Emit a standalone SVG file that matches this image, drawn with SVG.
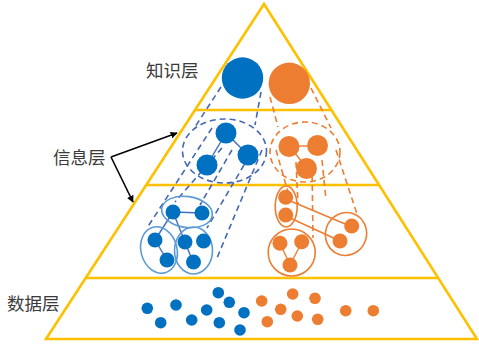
<svg xmlns="http://www.w3.org/2000/svg" width="479" height="346" viewBox="0 0 479 346">
<defs>
<style>
.tri{fill:none;stroke:#FFC000;stroke-width:2.6;stroke-linejoin:miter}
.lay{stroke:#FFC000;stroke-width:2.4}
.lbl{font-family:"Noto Sans CJK SC","Noto Sans CJK JP",sans-serif;font-size:17.5px;fill:#3a3a3a}
.b{fill:#0070C0}
.o{fill:#ED7D31}
.bd{fill:none;stroke:#4468B4;stroke-width:1.6;stroke-dasharray:6 4}
.od{fill:none;stroke:#ED7D31;stroke-width:1.6;stroke-dasharray:6 4}
.bs{stroke:#3D6FC0;stroke-width:1.4}
.os{stroke:#ED7D31;stroke-width:1.4}
.be{fill:none;stroke:#5B9BD5;stroke-width:1.6}
.oe{fill:none;stroke:#ED7D31;stroke-width:1.6}
.arr{stroke:#000;stroke-width:1.6;fill:none}
</style>
<marker id="ah" viewBox="0 0 10 10" refX="9" refY="5" markerWidth="7" markerHeight="7" orient="auto" markerUnits="userSpaceOnUse">
<path d="M0,0 L10,5 L0,10 z" fill="#000"/>
</marker>
</defs>
<rect width="479" height="346" fill="#fff"/>

<g id="pyramid">
<polygon class="tri" points="264,4 46,339 477,339"/>
<line class="lay" x1="195" y1="110" x2="331.4" y2="110"/>
<line class="lay" x1="145.6" y1="185" x2="379.7" y2="185"/>
<line class="lay" x1="85.7" y1="278" x2="438.2" y2="278"/>
</g>

<g id="labels">
<text class="lbl" x="146" y="77">知识层</text>
<text class="lbl" x="53" y="164">信息层</text>
<text class="lbl" x="7" y="310">数据层</text>
</g>

<g id="connectors">
<path class="arr" d="M111,157 L177,133" marker-end="url(#ah)"/>
<path class="arr" d="M111,157 L133,202" marker-end="url(#ah)"/>
<line class="bd" x1="221" y1="87" x2="195" y2="127"/>
<line class="bd" x1="261" y1="92" x2="255" y2="125"/>
<line class="od" x1="270" y1="97" x2="278" y2="127"/>
<line class="od" x1="311" y1="88" x2="331" y2="128"/>
<line class="bd" x1="212" y1="128" x2="147" y2="228"/>
<line class="bd" x1="222" y1="148" x2="175" y2="202"/>
<line class="bd" x1="232" y1="150" x2="200" y2="205"/>
<line class="bd" x1="244" y1="165" x2="207" y2="228"/>
<line class="bd" x1="262" y1="150" x2="217" y2="258"/>
<line class="od" x1="276" y1="150" x2="288" y2="192"/>
<line class="od" x1="296" y1="162" x2="298" y2="204"/>
<line class="od" x1="312" y1="165" x2="313" y2="238"/>
<line class="od" x1="322" y1="160" x2="326" y2="200"/>
<line class="od" x1="336" y1="150" x2="358" y2="217"/>
<line class="bs" x1="226" y1="133" x2="248" y2="155"/>
<line class="bs" x1="226" y1="133" x2="207" y2="165"/>
<line class="os" x1="289" y1="146" x2="317" y2="146"/>
<line class="os" x1="289" y1="146" x2="307" y2="168"/>
<line class="bs" x1="173" y1="212" x2="202" y2="213"/>
<line class="bs" x1="173" y1="212" x2="155" y2="240"/>
<line class="bs" x1="173" y1="212" x2="185" y2="242"/>
<line class="bs" x1="155" y1="240" x2="167" y2="260"/>
<line class="bs" x1="185" y1="242" x2="193" y2="262"/>
<line class="os" x1="288" y1="200" x2="350" y2="226"/>
<line class="os" x1="288" y1="217" x2="340" y2="241"/>
<line class="os" x1="280" y1="243" x2="290" y2="265"/>
<line class="os" x1="302" y1="242" x2="290" y2="265"/>
</g>

<g id="knowledge">
<circle class="b" cx="242.5" cy="78" r="20.7"/>
<circle class="o" cx="289.3" cy="83.3" r="20.7"/>
</g>

<g id="info-blue">
<ellipse class="bd" cx="224.5" cy="151" rx="42" ry="32"/>
<circle class="b" cx="226" cy="133" r="10.5"/>
<circle class="b" cx="248" cy="155" r="10.5"/>
<circle class="b" cx="207" cy="165" r="10.5"/>
</g>

<g id="info-orange">
<ellipse class="od" cx="305" cy="152" rx="35" ry="30"/>
<circle class="o" cx="289" cy="146.5" r="10.5"/>
<circle class="o" cx="317.5" cy="145.5" r="10.5"/>
<circle class="o" cx="306.5" cy="168.5" r="10.5"/>
</g>

<g id="detail-blue">
<ellipse class="be" cx="187" cy="212" rx="25.5" ry="15.5" transform="rotate(8 187 212)"/>
<circle class="b" cx="173" cy="212" r="7.5"/>
<circle class="b" cx="202" cy="213" r="7.5"/>
<ellipse class="be" cx="159" cy="250" rx="18" ry="23.5" transform="rotate(-15 159 250)"/>
<circle class="b" cx="155" cy="240" r="7.5"/>
<circle class="b" cx="167" cy="260" r="7.5"/>
<ellipse class="be" cx="193.5" cy="250.5" rx="19" ry="23.5"/>
<circle class="b" cx="185" cy="242" r="7.5"/>
<circle class="b" cx="203.5" cy="241" r="7.5"/>
<circle class="b" cx="193.5" cy="262" r="7.5"/>
</g>

<g id="detail-orange">
<ellipse class="oe" cx="286.2" cy="206.5" rx="11" ry="20.5"/>
<circle class="o" cx="285.7" cy="197.3" r="7.5"/>
<circle class="o" cx="285.7" cy="215" r="7.5"/>
<ellipse class="oe" cx="346" cy="234" rx="20.5" ry="21.5" transform="rotate(20 346 234)"/>
<circle class="o" cx="351.7" cy="226" r="7.5"/>
<circle class="o" cx="340" cy="241" r="7.5"/>
<circle class="oe" cx="291.7" cy="252.5" r="23.5"/>
<circle class="o" cx="280" cy="243.3" r="7.5"/>
<circle class="o" cx="301.7" cy="241.7" r="7.5"/>
<circle class="o" cx="290" cy="265" r="7.5"/>
</g>

<g id="data">
<circle class="b" cx="147.3" cy="308.3" r="5.8"/>
<circle class="b" cx="160.7" cy="322.7" r="5.8"/>
<circle class="b" cx="176" cy="305" r="5.8"/>
<circle class="b" cx="191.7" cy="320" r="5.8"/>
<circle class="b" cx="206.7" cy="310" r="5.8"/>
<circle class="b" cx="218.3" cy="292.7" r="5.8"/>
<circle class="b" cx="229.3" cy="302.3" r="5.8"/>
<circle class="b" cx="219.3" cy="322.7" r="5.8"/>
<circle class="b" cx="244" cy="312.7" r="5.8"/>
<circle class="b" cx="240" cy="330" r="5.8"/>
<circle class="o" cx="261.7" cy="301" r="5.8"/>
<circle class="o" cx="267.3" cy="321.7" r="5.8"/>
<circle class="o" cx="280.7" cy="309.3" r="5.8"/>
<circle class="o" cx="292.7" cy="294" r="5.8"/>
<circle class="o" cx="297.3" cy="316" r="5.8"/>
<circle class="o" cx="315" cy="298.3" r="5.8"/>
<circle class="o" cx="317.7" cy="319.3" r="5.8"/>
<circle class="o" cx="345.7" cy="310.7" r="5.8"/>
<circle class="o" cx="373.3" cy="310.7" r="5.8"/>
</g>
</svg>
